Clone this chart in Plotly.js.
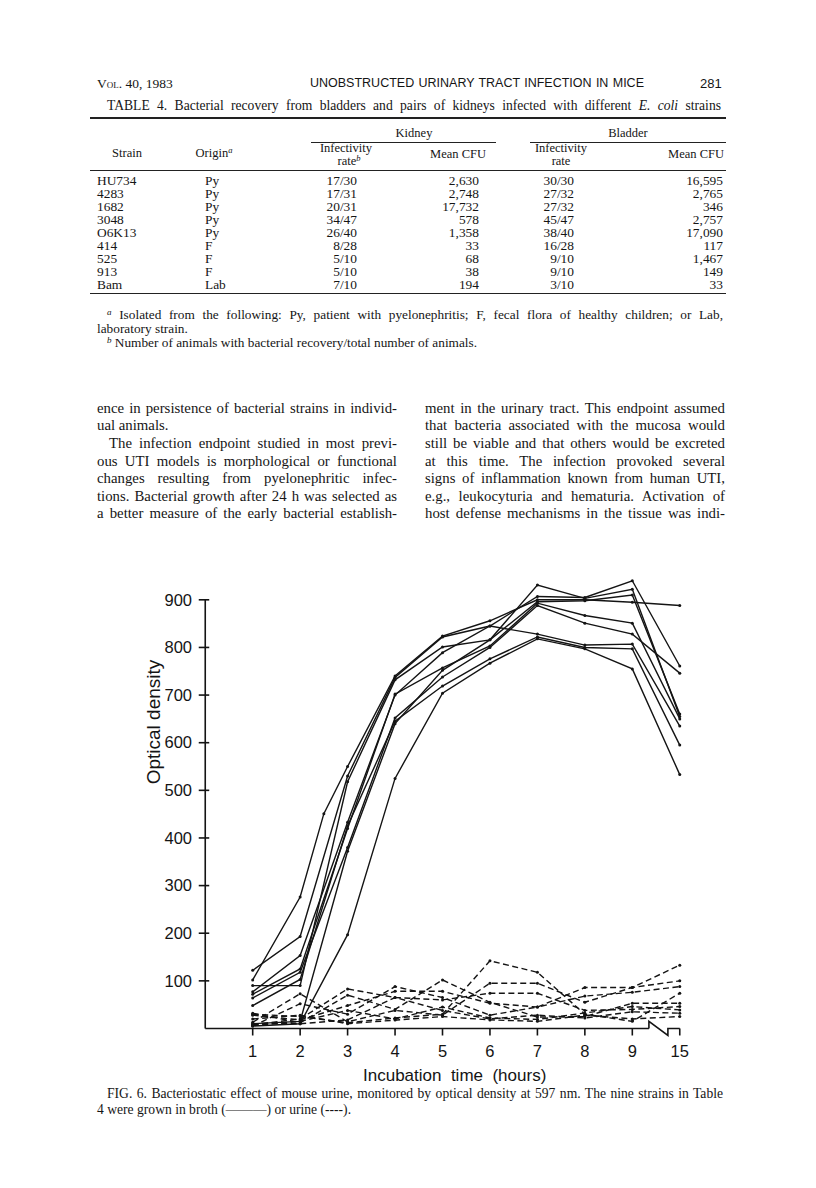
<!DOCTYPE html>
<html><head><meta charset="utf-8">
<script src="https://cdn.plot.ly/plotly-3.0.1.min.js"></script>
<style>
body{margin:0;background:#fff;}
#page{position:relative;width:816px;height:1188px;overflow:hidden;font-family:"Liberation Serif","Times New Roman",serif;color:#151515;background:#fff;}
.t{position:absolute;white-space:nowrap;display:inline-block;}
.rule{position:absolute;background:#222;}
sup{font-size:0.68em;line-height:0;vertical-align:0.45em;font-style:italic;}
#chart{position:absolute;left:0;top:540px;width:816px;height:560px;}
</style></head>
<body><div id="page"><div id="chart"></div></div>
<script>
// ---------- Table 4 data ----------
const strains     = ['HU734','4283','1682','3048','O6K13','414','525','913','Bam'];
const origins     = ['Py','Py','Py','Py','Py','F','F','F','Lab'];
const kidneyRate  = ['17/30','17/31','20/31','34/47','26/40','8/28','5/10','5/10','7/10'];
const kidneyCFU   = ['2,630','2,748','17,732','578','1,358','33','68','38','194'];
const bladderRate = ['30/30','27/32','27/32','45/47','38/40','16/28','9/10','9/10','3/10'];
const bladderCFU  = ['16,595','2,765','346','2,757','17,090','117','1,467','149','33'];

// ---------- Fig. 6 data (optical density) ----------
const hours   = [1,2,3,4,5,6,7,8,9,15];
const hoursB1 = [1,2,2.5,3,4,5,6,7,8,9,15];
// broth (solid)
const broth1 = [102,276,451,550,740,824,856,900,900,895,888];
const broth2 = [122,193,530,737,822,845,907,905,940,761];
const broth3 = [90,90,518,732,801,816,931,903,922,655];
const broth4 = [77,153,433,700,789,845,828,805,807,635];
const broth5 = [72,125,420,702,757,803,893,867,851,650];
const broth6 = [64,118,380,652,738,800,888,851,828,746];
const broth7 = [48,103,425,645,719,776,822,800,797,595];
const broth8 = [10,15,372,640,752,816,896,898,910,660];
const broth9 = [5,10,197,525,704,767,818,797,755,533];
// urine (dashed)
const urine1 = [30,25,12,22,30,142,118,30,15,74];
const urine2 = [13,73,14,38,28,95,95,55,86,133];
const urine3 = [8,20,83,65,60,74,74,38,40,46];
const urine4 = [5,52,30,88,65,28,45,86,86,100];
const urine5 = [28,18,48,78,78,53,45,68,76,88];
const urine6 = [32,12,70,40,102,55,24,25,53,53];
const urine7 = [6,15,38,20,45,22,19,32,46,39];
const urine8 = [10,10,18,65,38,20,28,22,35,32];
const urine9 = [20,28,10,18,25,18,15,28,20,25];

const yTicks = [100,200,300,400,500,600,700,800,900];
const xTickHours = [1,2,3,4,5,6,7,8,9,15];

// ---------- page text ----------
const page = document.getElementById('page');
function txt(html, x, yc, o) {
  o = o || {};
  const size = o.size || 13;
  const d = document.createElement('div');
  d.className = 't';
  d.innerHTML = html;
  d.style.fontSize = size + 'px';
  d.style.lineHeight = (size + 2) + 'px';
  d.style.top = (yc - size * 0.62) + 'px';
  if (o.family) d.style.fontFamily = o.family;
  page.appendChild(d);
  if (o.width) {
    d.style.left = x + 'px';
    const nat = d.getBoundingClientRect().width;
    const spaces = (d.textContent.match(/ /g) || []).length;
    if (nat < o.width && spaces > 0) {
      d.style.wordSpacing = ((o.width - nat) / spaces) + 'px';
    } else if (nat > o.width) {
      d.style.fontSize = (size * o.width / nat) + 'px';
    }
  } else if (o.align === 'right') {
    d.style.left = (x - d.getBoundingClientRect().width) + 'px';
  } else if (o.align === 'center') {
    d.style.left = (x - d.getBoundingClientRect().width / 2) + 'px';
  } else {
    d.style.left = x + 'px';
  }
}
function rule(x0, x1, y, h) {
  const d = document.createElement('div');
  d.className = 'rule';
  d.style.left = x0 + 'px'; d.style.width = (x1 - x0) + 'px';
  d.style.top = y + 'px'; d.style.height = (h || 1) + 'px';
  page.appendChild(d);
}
const SANS = '"Liberation Sans", Arial, Helvetica, sans-serif';

// running head
txt('<span style="font-variant:small-caps">Vol.</span> 40, 1983', 97, 84, {size: 13.5});
txt('UNOBSTRUCTED URINARY TRACT INFECTION IN MICE', 310, 84, {size: 12.5, family: SANS, width: 334});
txt('281', 700, 84, {size: 13, family: SANS});

// table
txt('TABLE 4. Bacterial recovery from bladders and pairs of kidneys infected with different <i>E. coli</i> strains', 107, 106, {size: 13.6, width: 614});
rule(90, 726, 117, 1.5);
txt('Kidney', 414, 134, {size: 12.5, align: 'center'});
txt('Bladder', 628, 134, {size: 12.5, align: 'center'});
rule(311, 496, 142, 1);
rule(530, 726, 142, 1);
txt('Strain', 127, 154, {size: 12.5, align: 'center'});
txt('Origin<sup>a</sup>', 214, 154, {size: 12.5, align: 'center'});
txt('Infectivity', 346, 149, {size: 12.5, align: 'center'});
txt('rate<sup>b</sup>', 349, 162, {size: 12.5, align: 'center'});
txt('Mean CFU', 458, 155, {size: 12.5, align: 'center'});
txt('Infectivity', 561, 149, {size: 12.5, align: 'center'});
txt('rate', 561, 162, {size: 12.5, align: 'center'});
txt('Mean CFU', 696, 155, {size: 12.5, align: 'center'});
rule(90, 726, 170, 1);
strains.forEach(function (s, i) {
  const y = 181 + 13 * i;
  txt(s, 97, y, {size: 13.4});
  txt(origins[i], 205, y, {size: 13.4});
  txt(kidneyRate[i], 357, y, {size: 13.4, align: 'right'});
  txt(kidneyCFU[i], 479, y, {size: 13.4, align: 'right'});
  txt(bladderRate[i], 574, y, {size: 13.4, align: 'right'});
  txt(bladderCFU[i], 723, y, {size: 13.4, align: 'right'});
});
rule(90, 726, 293, 1.2);
txt('<sup>a</sup> Isolated from the following: Py, patient with pyelonephritis; F, fecal flora of healthy children; or Lab,', 107, 315, {size: 13.3, width: 616});
txt('laboratory strain.', 97, 329, {size: 13.3});
txt('<sup>b</sup> Number of animals with bacterial recovery/total number of animals.', 107, 343, {size: 13.3});

// body text
const leftLines = [
  ['ence in persistence of bacterial strains in individ-', 97, 300],
  ['ual animals.', 97, 0],
  ['The infection endpoint studied in most previ-', 109, 288],
  ['ous UTI models is morphological or functional', 97, 300],
  ['changes resulting from pyelonephritic infec-', 97, 300],
  ['tions. Bacterial growth after 24 h was selected as', 97, 300],
  ['a better measure of the early bacterial establish-', 97, 300]
];
const rightLines = [
  'ment in the urinary tract. This endpoint assumed',
  'that bacteria associated with the mucosa would',
  'still be viable and that others would be excreted',
  'at this time. The infection provoked several',
  'signs of inflammation known from human UTI,',
  'e.g., leukocyturia and hematuria. Activation of',
  'host defense mechanisms in the tissue was indi-'
];
leftLines.forEach(function (l, i) {
  const y = 409 + 17.6 * i;
  if (l[2]) txt(l[0], l[1], y, {size: 14.8, width: l[2]});
  else txt(l[0], l[1], y, {size: 14.8});
});
rightLines.forEach(function (l, i) {
  txt(l, 425, 409 + 17.6 * i, {size: 14.8, width: 300});
});

// caption
txt('FIG. 6. Bacteriostatic effect of mouse urine, monitored by optical density at 597 nm. The nine strains in Table', 107, 1094, {size: 13.6, width: 616});
txt('4 were grown in broth (\u2014\u2014\u2014) or urine (----).', 97, 1110, {size: 13.6});

// ---------- chart ----------
const DIV_TOP = 540, DIV_H = 560;
const X0PX = 205, XUNIT = 47.5, Y0PX = 1028, YUNIT = 428 / 900;
const xr = [-0.3, 10.3], yr = [-20, 950];
const plotL = X0PX + xr[0] * XUNIT, plotR = X0PX + xr[1] * XUNIT;
const plotT = Y0PX - yr[1] * YUNIT, plotB = Y0PX - yr[0] * YUNIT;
const px2paperX = function (px) { return (px - plotL) / (plotR - plotL); };
const px2paperY = function (py) { return (plotB - py) / (plotB - plotT); };
const posOf = function (h) { return h <= 9 ? h : 10; };

const brothSeries = [broth1, broth2, broth3, broth4, broth5, broth6, broth7, broth8, broth9];
const urineSeries = [urine1, urine2, urine3, urine4, urine5, urine6, urine7, urine8, urine9];
const INK = '#141414';
const traces = [];
urineSeries.forEach(function (v) {
  traces.push({x: hours.map(posOf), y: v, type: 'scatter', mode: 'lines+markers',
    line: {color: INK, width: 1.4, dash: '6px,3.5px'}, marker: {size: 3, color: INK},
    hoverinfo: 'skip', showlegend: false, cliponaxis: false});
});
brothSeries.forEach(function (v, i) {
  const hx = (i === 0 ? hoursB1 : hours).map(posOf);
  traces.push({x: hx, y: v, type: 'scatter', mode: 'lines+markers',
    line: {color: INK, width: 1.4}, marker: {size: 3, color: INK},
    hoverinfo: 'skip', showlegend: false, cliponaxis: false});
});

const ln = {color: INK, width: 1.6};
const shapes = [];
shapes.push({type: 'line', xref: 'x', yref: 'y', x0: 0, x1: 0, y0: 0, y1: 900, line: ln});
yTicks.forEach(function (v) {
  shapes.push({type: 'line', xref: 'x', yref: 'y', x0: -6.5 / XUNIT, x1: 4 / XUNIT, y0: v, y1: v, line: ln});
});
const bL = 9.35, bR = 9.75, bUp = 7 / YUNIT, bDn = -7 / YUNIT;
shapes.push({type: 'line', xref: 'x', yref: 'y', x0: 0, x1: bL, y0: 0, y1: 0, line: ln});
shapes.push({type: 'path', xref: 'x', yref: 'y',
  path: 'M' + bL + ',0 L' + bL + ',' + bUp + ' L' + bR + ',' + bDn + ' L' + bR + ',0 L10,0', line: ln});
xTickHours.forEach(function (h) {
  shapes.push({type: 'line', xref: 'x', yref: 'y', x0: posOf(h), x1: posOf(h), y0: 0, y1: -7 / YUNIT, line: ln});
});

const tickFont = {family: SANS, size: 16.5, color: INK};
const layout = {
  width: 816, height: DIV_H,
  margin: {l: plotL, r: 816 - plotR, t: plotT - DIV_TOP, b: DIV_TOP + DIV_H - plotB, pad: 0},
  paper_bgcolor: 'rgba(0,0,0,0)', plot_bgcolor: 'rgba(0,0,0,0)',
  showlegend: false,
  xaxis: {range: xr, showline: false, zeroline: false, showgrid: false, ticks: '',
    tickvals: xTickHours.map(posOf), ticktext: xTickHours.map(String), tickfont: tickFont,
    ticklabelstandoff: 1},
  yaxis: {range: yr, showline: false, zeroline: false, showgrid: false, ticks: '',
    tickvals: yTicks, ticktext: yTicks.map(String), tickfont: tickFont, ticklabelstandoff: -2},
  shapes: shapes,
  annotations: [
    {xref: 'paper', yref: 'paper', x: px2paperX(153), y: px2paperY(722), text: 'Optical density',
      textangle: -90, showarrow: false, xanchor: 'center', yanchor: 'middle',
      font: {family: SANS, size: 19, color: INK}},
    {xref: 'paper', yref: 'paper', x: px2paperX(455), y: px2paperY(1075), text: 'Incubation  time  (hours)',
      showarrow: false, xanchor: 'center', yanchor: 'middle',
      font: {family: SANS, size: 17, color: INK}}
  ]
};
Plotly.newPlot('chart', traces, layout, {displayModeBar: false, staticPlot: true});
</script>
</body></html>
